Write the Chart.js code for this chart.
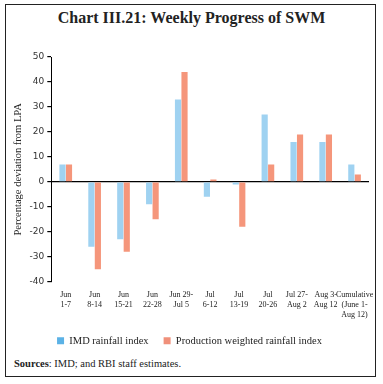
<!DOCTYPE html>
<html>
<head>
<meta charset="utf-8">
<script src="https://cdn.jsdelivr.net/npm/chart.js@4.4.0/dist/chart.umd.min.js"></script>
<style>
  html, body { margin:0; padding:0; background:#fff; }
  body { width:383px; height:384px; position:relative; overflow:hidden; }
  #frame { position:absolute; left:5px; top:4px; width:371px; height:373px; border:1.3px solid #222; box-sizing:border-box; }
  #title { position:absolute; left:0; width:383px; top:9px; text-align:center; font-family:"Liberation Serif", serif; font-weight:bold; font-size:16px; color:#222; }
  #src { position:absolute; left:14px; top:358px; font-family:"Liberation Serif", serif; font-size:10.5px; color:#222; }
  #wrap { position:absolute; left:6px; top:34px; width:370px; height:322px; }
</style>
</head>
<body>
<div id="frame"></div>
<div id="title">Chart III.21: Weekly Progress of SWM</div>
<div id="wrap"><canvas id="c"></canvas></div>
<div id="src"><b>Sources</b>: IMD; and RBI staff estimates.</div>
<script>
const categories = [
  ["Jun","1-7"], ["Jun","8-14"], ["Jun","15-21"], ["Jun","22-28"], ["Jun 29-","Jul 5"],
  ["Jul","6-12"], ["Jul","13-19"], ["Jul","20-26"], ["Jul 27-","Aug 2"], ["Aug 3-","Aug 12"],
  ["Cumulative","(June 1-","Aug 12)"]
];
const imdRainfall = [7, -26, -23, -9, 33, -6, -1, 27, 16, 16, 7];
const productionWeighted = [7, -35, -28, -15, 44, 1, -18, 7, 19, 19, 3];
const seriesNames = ["IMD rainfall index", "Production weighted rainfall index"];
const yTicks = { min: -40, max: 50, step: 10 };

Chart.defaults.font.family = '"Liberation Serif", serif';
Chart.defaults.color = '#222';

new Chart(document.getElementById('c'), {
  type: 'bar',
  data: {
    labels: categories,
    datasets: [
      { label: seriesNames[0], data: imdRainfall, backgroundColor: '#9fd2f1', categoryPercentage: 0.45, barPercentage: 0.95 },
      { label: seriesNames[1], data: productionWeighted, backgroundColor: '#f5967b', categoryPercentage: 0.45, barPercentage: 0.95 }
    ]
  },
  options: {
    responsive: true,
    maintainAspectRatio: false,
    animation: false,
    layout: { padding: { left: 4, right: 7, top: 23, bottom: 0 } },
    plugins: {
      title: { display: false },
      tooltip: { enabled: false },
      legend: {
        position: 'bottom',
        labels: {
          boxWidth: 7, boxHeight: 7, padding: 15,
          font: { size: 10.5 },
          color: '#222',
          generateLabels: (chart) => {
            const fills = ['#5bb2e6', '#f0907a'];
            return chart.data.datasets.map((d, i) => ({
              text: d.label, fillStyle: fills[i], strokeStyle: fills[i], lineWidth: 0, datasetIndex: i, fontColor: '#222'
            }));
          }
        }
      }
    },
    scales: {
      x: {
        grid: { display: false },
        border: { display: false },
        ticks: { font: { size: 8, lineHeight: 1.28 }, maxRotation: 0, autoSkip: false, padding: 0, color: '#222' }
      },
      y: {
        min: yTicks.min, max: yTicks.max,
        ticks: { stepSize: yTicks.step, font: { family: '"DejaVu Sans", sans-serif', size: 9 }, color: '#333', padding: 3 },
        border: { display: true, color: '#000', width: 1 },
        grid: {
          color: (ctx) => (ctx.tick && ctx.tick.value === 0) ? '#000' : 'transparent',
          lineWidth: 1.2,
          tickColor: '#000',
          tickLength: 4,
          drawTicks: true
        },
        title: { display: true, text: 'Percentage deviation from LPA', font: { size: 10.5 }, color: '#222', padding: 2 }
      }
    }
  }
});
</script>
</body>
</html>
